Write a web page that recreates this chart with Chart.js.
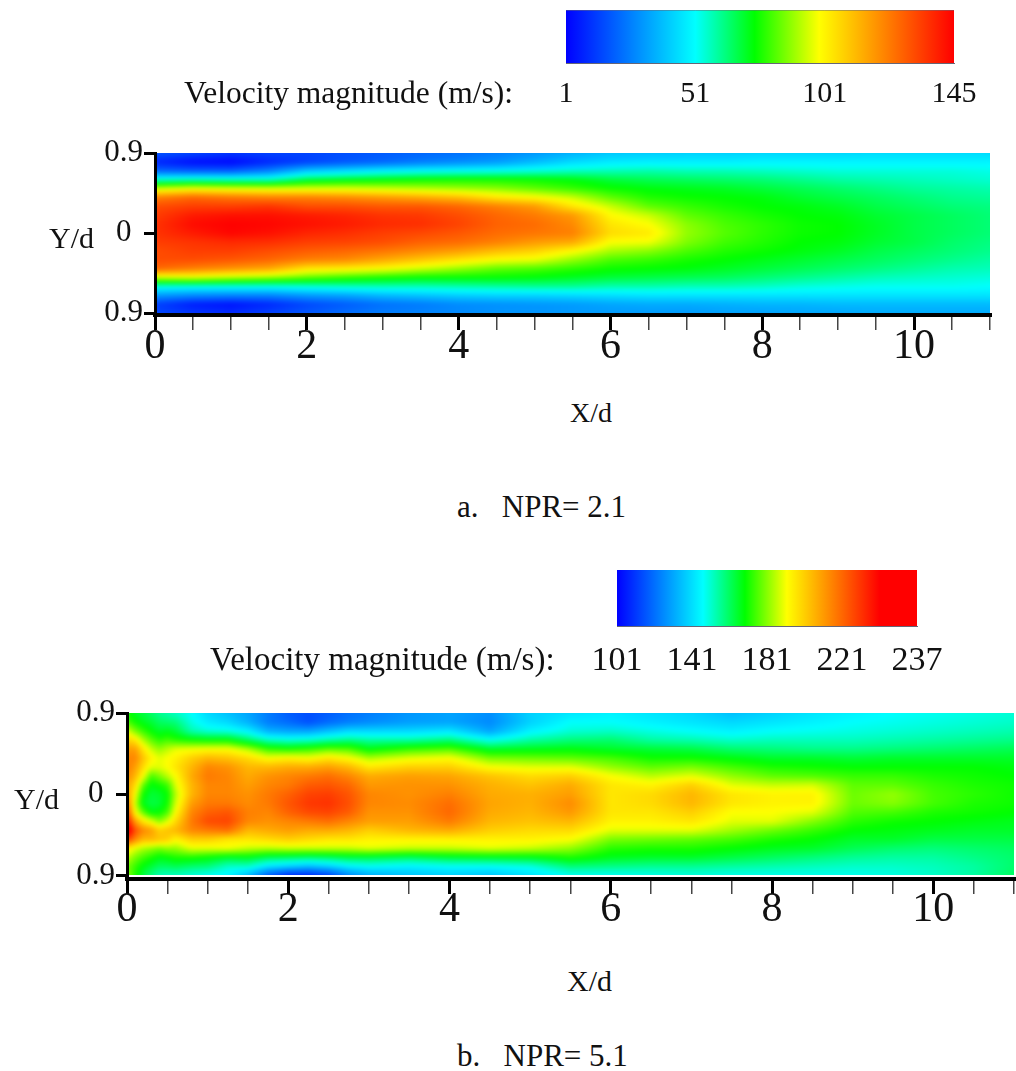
<!DOCTYPE html>
<html>
<head>
<meta charset="utf-8">
<title>Velocity magnitude</title>
<script src="https://cdn.jsdelivr.net/npm/chart.js@4"></script>
<style>
    html, body { margin: 0; padding: 0; background: #fff; }
    body { position: relative; width: 1016px; height: 1071px; overflow: hidden; }
    canvas { position: absolute; left: 0; }
    .txt {
        position: absolute;
        white-space: pre;
        color: #111;
        font-family: "Liberation Serif", serif;
        font-size: 30px;
        line-height: 32px;
    }
    .cap { font-size: 31px; }
    .vel { line-height: 36px; }
</style>
</head>
<body>
<canvas id="legendA" width="1016" height="125" style="top:0"></canvas>
<canvas id="panelA" width="1016" height="260" style="top:130px"></canvas>
<canvas id="legendB" width="1016" height="125" style="top:560px"></canvas>
<canvas id="panelB" width="1016" height="260" style="top:690px"></canvas>

<div class="txt vel" style="left:184px;top:75px;font-size:31.5px">Velocity magnitude (m/s):</div>
<div class="txt" style="left:49px;top:222px">Y/d</div>
<div class="txt" style="left:570px;top:397px;font-size:28px">X/d</div>
<div class="txt cap" style="left:457px;top:491px">a.   NPR= 2.1</div>
<div class="txt vel" style="left:210px;top:641px;font-size:33px">Velocity magnitude (m/s):</div>
<div class="txt" style="left:14px;top:783px">Y/d</div>
<div class="txt" style="left:567px;top:965px">X/d</div>
<div class="txt cap" style="left:457px;top:1040px">b.   NPR= 5.1</div>

<script>
const serif = "'Liberation Serif', serif";

// legend tick labels (the legend labels are evenly spaced along the bar)
const legendLabelsA = ["1", "51", "101", "145"];
const legendLabelsB = ["101", "141", "181", "221", "237"];

// speed (m/s) where the colour map reaches blue, cyan, green, yellow, red
const rampColors = [[0, 0, 255], [0, 255, 255], [0, 255, 0], [255, 255, 0], [255, 0, 0]];
const rampA = [1, 49, 71, 95, 145];
const rampB = [101, 140, 159, 178, 220];
const rangeA = [1, 145];
const rangeB = [101, 237];

// Y/d of each sample in a column, top to bottom
const yRows = [0.9, 0.8, 0.7, 0.6, 0.5, 0.4, 0.3, 0.2, 0.1, 0, -0.1, -0.2, -0.3, -0.4, -0.5, -0.6, -0.7, -0.8, -0.9];

// NPR = 2.1
const xA = [0, 0.5, 1, 1.5, 2, 2.5, 3, 3.5, 4, 4.5, 5, 5.5, 6, 6.5, 7, 7.5, 8, 8.5, 9, 9.5, 10, 10.5, 11];
const speedA = [
    [18, 8, 20, 53, 90, 120, 130, 133, 135, 135, 133, 130, 130, 125, 90, 51, 30, 13, 15],
    [15, 3, 18, 55, 95, 125, 133, 140, 143, 140, 135, 133, 130, 120, 92, 50, 27, 6, 12],
    [12, 2, 18, 54, 93, 122, 133, 142, 145, 144, 137, 133, 128, 116, 88, 50, 26, 4, 10],
    [14, 8, 25, 54, 92, 120, 135, 142, 144, 142, 136, 130, 125, 112, 85, 50, 26, 8, 14],
    [14, 13, 38, 65, 92, 120, 130, 140, 142, 138, 133, 127, 120, 100, 80, 52, 30, 14, 18],
    [16, 17, 42, 68, 92, 118, 130, 138, 140, 136, 132, 125, 118, 98, 76, 54, 32, 18, 22],
    [18, 20, 46, 70, 90, 115, 128, 135, 137, 133, 130, 122, 112, 95, 73, 55, 36, 22, 25],
    [20, 24, 48, 72, 88, 112, 128, 134, 136, 131, 126, 118, 106, 90, 71, 55, 38, 24, 26],
    [22, 27, 49, 73, 86, 108, 125, 130, 132, 128, 124, 114, 100, 85, 71, 56, 40, 27, 27],
    [25, 30, 50, 73, 84, 100, 120, 125, 126, 124, 120, 108, 95, 80, 71, 57, 41, 28, 29],
    [29, 36, 52, 72, 80, 96, 115, 121, 124, 122, 115, 104, 93, 78, 70, 58, 41, 29, 29],
    [34, 42, 54, 70, 76, 90, 100, 115, 118, 120, 112, 96, 85, 75, 68, 58, 42, 30, 30],
    [38, 45, 55, 66, 72, 80, 90, 96, 100, 102, 95, 87, 78, 72, 66, 56, 43, 32, 30],
    [39, 46, 56, 64, 70, 74, 80, 90, 95, 99, 94, 84, 76, 71, 65, 56, 44, 33, 30],
    [40, 46, 55, 63, 69, 72, 76, 80, 84, 85, 83, 78, 73, 70, 64, 55, 44, 33, 30],
    [40, 46, 55, 62, 68, 71, 73, 76, 78, 79, 77, 74, 71, 68, 63, 55, 44, 34, 31],
    [41, 47, 54, 61, 66, 70, 71, 73, 75, 75, 74, 72, 69, 66, 61, 54, 44, 35, 31],
    [41, 47, 53, 59, 64, 67, 70, 71, 72, 72, 71, 70, 67, 64, 59, 52, 44, 35, 32],
    [41, 47, 52, 57, 62, 65, 68, 70, 71, 71, 70, 68, 65, 62, 57, 51, 44, 36, 32],
    [42, 47, 52, 56, 60, 63, 65, 67, 68, 68, 67, 65, 63, 60, 55, 50, 44, 36, 33],
    [42, 47, 52, 55, 58, 61, 63, 65, 65, 65, 65, 63, 61, 58, 54, 50, 44, 36, 33],
    [42, 47, 52, 54, 57, 59, 61, 63, 63, 63, 62, 61, 59, 56, 53, 50, 44, 36, 33],
    [42, 47, 51, 53, 56, 58, 60, 61, 61, 61, 60, 59, 57, 55, 52, 49, 44, 36, 33],
];

// NPR = 5.1
const xB = [0, 0.1, 0.2, 0.3, 0.4, 0.5, 0.6, 0.8, 1, 1.25, 1.5, 1.75, 2, 2.25, 2.5, 2.75, 3, 3.5, 4, 4.5, 5, 5.5, 6, 6.5, 7, 7.5, 8, 8.5, 9, 9.5, 10, 10.5, 11];
const speedB = [
    [161, 165, 176, 186, 194, 198, 200, 198, 194, 196, 203, 211, 219, 230, 211, 182, 174, 168, 170],
    [156, 160, 168, 182, 194, 198, 194, 190, 184, 178, 174, 178, 194, 207, 198, 176, 168, 163, 161],
    [154, 157, 163, 172, 182, 188, 184, 178, 166, 160, 157, 166, 182, 198, 190, 172, 164, 158, 154],
    [151, 155, 159, 166, 174, 180, 176, 164, 158, 155, 154, 158, 176, 194, 190, 170, 161, 155, 149],
    [148, 152, 156, 162, 170, 176, 176, 168, 160, 156, 155, 159, 169, 186, 188, 168, 158, 152, 145],
    [146, 151, 157, 164, 173, 178, 178, 173, 163, 159, 160, 164, 175, 188, 186, 170, 159, 152, 144],
    [144, 150, 155, 162, 176, 180, 182, 178, 175, 172, 174, 178, 184, 190, 180, 170, 161, 153, 144],
    [140, 142, 146, 160, 177, 186, 190, 192, 190, 190, 194, 198, 200, 198, 186, 176, 161, 151, 142],
    [134, 137, 143, 159, 178, 190, 198, 200, 198, 198, 200, 204, 208, 200, 186, 176, 159, 150, 140],
    [130, 134, 142, 159, 178, 188, 196, 198, 198, 198, 200, 206, 209, 202, 182, 177, 156, 144, 138],
    [126, 128, 138, 152, 172, 184, 190, 192, 194, 196, 197, 199, 198, 190, 182, 174, 157, 144, 128],
    [120, 120, 128, 145, 163, 178, 190, 196, 198, 200, 200, 198, 196, 192, 184, 173, 153, 136, 113],
    [115, 117, 126, 143, 161, 180, 192, 198, 200, 204, 206, 204, 198, 194, 186, 174, 152, 133, 105],
    [113, 113, 126, 144, 163, 178, 192, 200, 205, 209, 211, 208, 200, 192, 184, 174, 151, 130, 105],
    [115, 117, 130, 147, 166, 182, 194, 202, 206, 210, 212, 209, 202, 192, 182, 174, 152, 133, 109],
    [118, 120, 134, 149, 165, 178, 190, 198, 203, 206, 207, 205, 198, 190, 182, 174, 154, 138, 120],
    [120, 122, 134, 147, 158, 172, 182, 192, 195, 198, 198, 196, 194, 186, 180, 176, 154, 140, 126],
    [124, 125, 134, 147, 163, 176, 186, 194, 196, 196, 197, 196, 194, 190, 180, 174, 152, 138, 130],
    [126, 126, 136, 150, 165, 178, 186, 193, 196, 199, 202, 203, 200, 192, 180, 174, 155, 140, 132],
    [123, 122, 126, 141, 156, 168, 178, 188, 191, 192, 193, 192, 190, 186, 180, 176, 156, 140, 130],
    [133, 133, 138, 147, 157, 167, 176, 184, 188, 191, 191, 190, 188, 184, 180, 174, 157, 142, 135],
    [136, 140, 143, 150, 158, 166, 176, 186, 192, 194, 197, 195, 190, 184, 178, 170, 161, 150, 140],
    [138, 140, 144, 151, 156, 164, 170, 178, 182, 182, 182, 182, 180, 176, 168, 162, 157, 149, 140],
    [136, 138, 142, 147, 155, 160, 166, 173, 180, 184, 184, 182, 180, 176, 167, 161, 156, 148, 141],
    [134, 136, 140, 146, 154, 160, 168, 176, 186, 190, 190, 186, 182, 176, 166, 161, 156, 148, 142],
    [130, 134, 138, 144, 151, 158, 164, 170, 176, 182, 182, 178, 176, 171, 164, 159, 154, 147, 141],
    [133, 136, 140, 145, 150, 156, 161, 166, 174, 180, 180, 178, 176, 167, 161, 157, 152, 146, 141],
    [136, 138, 141, 145, 149, 156, 160, 165, 175, 180, 180, 176, 169, 163, 159, 156, 150, 145, 141],
    [138, 140, 142, 145, 149, 155, 159, 163, 166, 167, 167, 165, 162, 159, 156, 153, 148, 144, 141],
    [140, 141, 143, 146, 150, 156, 159, 163, 166, 170, 169, 164, 160, 158, 156, 151, 147, 144, 142],
    [141, 142, 144, 147, 151, 156, 159, 161, 163, 164, 164, 161, 159, 157, 154, 150, 147, 145, 144],
    [142, 143, 145, 148, 152, 156, 159, 160, 161, 162, 161, 160, 158, 156, 154, 151, 149, 147, 147],
    [143, 144, 146, 149, 153, 156, 158, 159, 160, 160, 160, 159, 157, 156, 154, 152, 151, 151, 152],
];

// colour for one speed, straight lines between the ramp colours
const speedColor = (v, ramp) => {
    if (v <= ramp[0]) return rampColors[0];
    for (let i = 1; i < ramp.length; i++) {
        if (v <= ramp[i]) {
            const t = (v - ramp[i - 1]) / (ramp[i] - ramp[i - 1]);
            const a = rampColors[i - 1];
            const b = rampColors[i];
            return [a[0] + (b[0] - a[0]) * t, a[1] + (b[1] - a[1]) * t, a[2] + (b[2] - a[2]) * t];
        }
    }
    return rampColors[rampColors.length - 1];
};

// index of the sample pair around v, list can run up or down
const findCell = (list, v) => {
    const n = list.length - 1;
    const up = list[n] > list[0];
    for (let i = 0; i < n; i++) {
        if (up ? v <= list[i + 1] : v >= list[i + 1]) {
            return [i, (v - list[i]) / (list[i + 1] - list[i])];
        }
    }
    return [n - 1, 1];
};

// shades the plot area, every pixel goes back through the chart scales
const fieldPlugin = {
    id: "field",
    beforeDraw(chart) {
        const { x: xs, y: ys } = chart.scales;
        const { xList, yList, speeds, ramp } = chart.config.options.plugins.field;
        const left = Math.round(xs.getPixelForValue(xList[0]));
        const right = Math.round(xs.getPixelForValue(xList[xList.length - 1]));
        const top = Math.round(ys.getPixelForValue(yList[0]));
        const bottom = Math.round(ys.getPixelForValue(yList[yList.length - 1]));
        const w = right - left;
        const h = bottom - top;

        const off = document.createElement("canvas");
        off.width = w;
        off.height = h;
        const offCtx = off.getContext("2d");
        const img = offCtx.createImageData(w, h);
        for (let py = 0; py < h; py++) {
            const [r, tr] = findCell(yList, ys.getValueForPixel(top + py + 0.5));
            for (let px = 0; px < w; px++) {
                const [c, tc] = findCell(xList, xs.getValueForPixel(left + px + 0.5));
                const v0 = speeds[c][r] + (speeds[c + 1][r] - speeds[c][r]) * tc;
                const v1 = speeds[c][r + 1] + (speeds[c + 1][r + 1] - speeds[c][r + 1]) * tc;
                const col = speedColor(v0 + (v1 - v0) * tr, ramp);
                const k = (py * w + px) * 4;
                img.data[k] = col[0];
                img.data[k + 1] = col[1];
                img.data[k + 2] = col[2];
                img.data[k + 3] = 255;
            }
        }
        offCtx.putImageData(img, 0, 0);

        const ctx = chart.ctx;
        ctx.save();
        ctx.beginPath();
        ctx.rect(left, top, w, h);
        ctx.clip();
        ctx.drawImage(off, left, top);
        ctx.filter = "blur(2px)";
        ctx.drawImage(off, left, top);
        ctx.restore();
    },
};

const makePanel = (id, xList, speeds, ramp, yMin, box) => {
    const points = [];
    xList.forEach((x, c) => yRows.forEach((y, r) => points.push({ x, y, v: speeds[c][r] })));
    new Chart(document.getElementById(id), {
        type: "scatter",
        data: { datasets: [{ data: points, pointRadius: 0, showLine: false }] },
        plugins: [fieldPlugin],
        options: {
            responsive: false,
            animation: false,
            events: [],
            layout: { padding: { top: box.top, right: box.right, left: 0, bottom: 0 } },
            plugins: {
                legend: { display: false },
                tooltip: { enabled: false },
                field: { xList, yList: yRows, speeds, ramp },
            },
            scales: {
                x: {
                    type: "linear",
                    min: 0,
                    max: 11,
                    afterFit: (s) => { s.height = box.axisHeight; },
                    border: { display: true, color: "#000", width: 4 },
                    grid: {
                        drawOnChartArea: false,
                        tickLength: 15,
                        tickColor: (c) => (c.tick.value % 2 === 0 ? "#000" : "#444"),
                        lineWidth: (c) => (c.tick.value % 2 === 0 ? 3 : 1.5),
                    },
                    ticks: {
                        stepSize: 0.5,
                        autoSkip: false,
                        maxRotation: 0,
                        padding: box.tickPad,
                        color: "#111",
                        font: { family: serif, size: 42 },
                        callback: (v) => (v % 2 === 0 ? String(v) : ""),
                    },
                },
                y: {
                    type: "linear",
                    min: yMin,
                    max: 0.9,
                    afterFit: (s) => { s.width = box.axisWidth; },
                    afterBuildTicks: (s) => { s.ticks = [{ value: -0.9 }, { value: 0 }, { value: 0.9 }]; },
                    border: { display: true, color: "#000", width: 3 },
                    grid: { drawOnChartArea: false, tickLength: 11, tickColor: "#000", lineWidth: 3 },
                    ticks: {
                        padding: 1,
                        crossAlign: "center",
                        color: "#111",
                        font: { family: serif, size: 31 },
                        callback: (v) => (v === 0 ? "0" : Math.abs(v).toFixed(1)),
                    },
                },
            },
        },
    });
};

const makeLegend = (id, labels, ramp, range, box) => {
    new Chart(document.getElementById(id), {
        type: "line",
        data: {
            labels,
            datasets: [{
                data: labels.map(() => 1),
                borderWidth: box.topLine,
                borderColor: "#667",
                pointRadius: 0,
                fill: "origin",
                backgroundColor: (c) => {
                    const area = c.chart.chartArea;
                    if (!area) return "#fff";
                    const grad = c.chart.ctx.createLinearGradient(area.left, 0, area.right, 0);
                    ramp.forEach((v, i) => {
                        const col = rampColors[i];
                        grad.addColorStop((v - range[0]) / (range[1] - range[0]), `rgb(${col[0]},${col[1]},${col[2]})`);
                    });
                    grad.addColorStop(1, "rgb(255,0,0)");
                    return grad;
                },
            }],
        },
        options: {
            responsive: false,
            animation: false,
            events: [],
            layout: { padding: { top: box.top, right: box.right, left: box.left, bottom: 0 } },
            plugins: { legend: { display: false }, tooltip: { enabled: false } },
            scales: {
                x: {
                    type: "category",
                    offset: false,
                    afterFit: (s) => { s.height = box.axisHeight; },
                    border: { display: true, color: "#667", width: 1 },
                    grid: { display: false },
                    ticks: {
                        autoSkip: false,
                        maxRotation: 0,
                        padding: box.labelPad,
                        color: "#111",
                        font: { family: serif, size: box.labelSize },
                    },
                },
                y: { display: false, min: 0, max: 1 },
            },
        },
    });
};

makeLegend("legendA", legendLabelsA, rampA, rangeA, { top: 10, left: 566, right: 62, axisHeight: 62, labelPad: 5, labelSize: 30, topLine: 1 });
makePanel("panelA", xA, speedA, rampA, -0.92, { top: 23, right: 26, axisWidth: 155, axisHeight: 75, tickPad: -8 });
makeLegend("legendB", legendLabelsB, rampB, rangeB, { top: 10, left: 617, right: 99, axisHeight: 59, labelPad: 7, labelSize: 34, topLine: 0 });
makePanel("panelB", xB, speedB, rampB, -0.94, { top: 23, right: 2, axisWidth: 127, axisHeight: 71, tickPad: -9 });
</script>
</body>
</html>
